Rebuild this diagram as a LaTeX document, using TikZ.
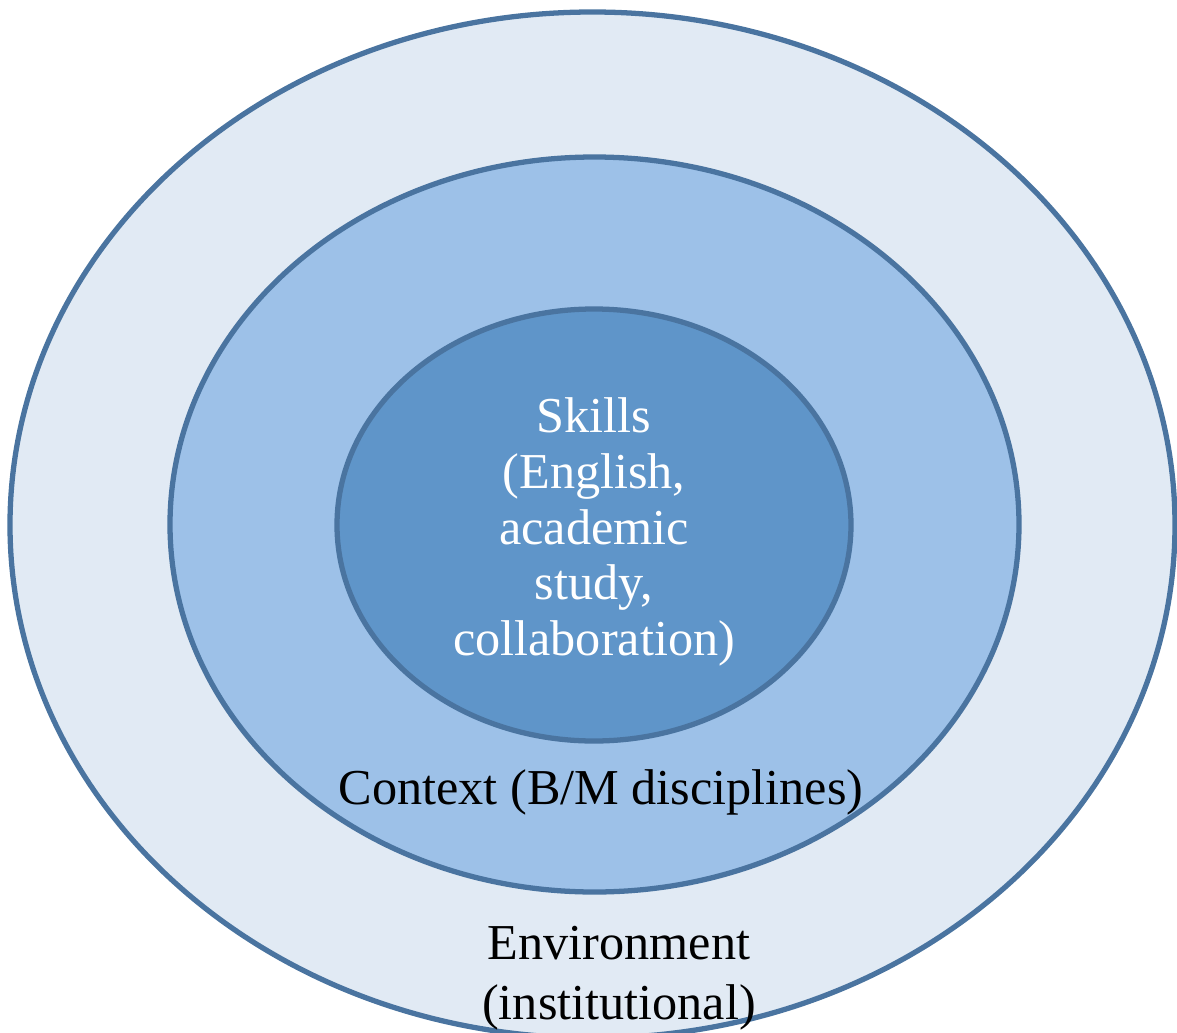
\documentclass[tikz,border=0pt]{standalone}
\usepackage{fontspec}
\setmainfont{Liberation Serif}
\usepackage{xcolor}
\usepackage{tikz}
\definecolor{ringline}{HTML}{4A74A0}
\definecolor{outerfill}{HTML}{E1EAF4}
\definecolor{midfill}{HTML}{9DC1E8}
\definecolor{innerfill}{HTML}{5F95C9}
\tikzset{
  ring/.style={draw=ringline,line width=1.5pt},
  lbl/.style={align=center,font=\fontsize{14.3}{15.9}\selectfont,inner sep=0pt}
}

\begin{document}
\begin{tikzpicture}
    \useasboundingbox (0,0) rectangle (11.77,-10.33);
    % the three rings
    \draw[ring,fill=outerfill](5.925,-5.25) ellipse (5.825 and 5.13);
    \draw[ring,fill=midfill](5.945,-5.245) ellipse (4.245 and 3.675);
    \draw[ring,fill=innerfill](5.94,-5.25) ellipse (2.57 and 2.16);
    % labels
    \node[lbl,text=white] (skills) at (5.94,-5.32) {Skills\\(English,\\academic\\study,\\collaboration)};
    \node[lbl] (context) at (6.01,-7.92) {Context (B/M disciplines)};
    \node[lbl,font=\fontsize{14.3}{17}\selectfont] (environment) at (6.19,-9.78) {Environment\\(institutional)};
\end{tikzpicture}
\end{document}
